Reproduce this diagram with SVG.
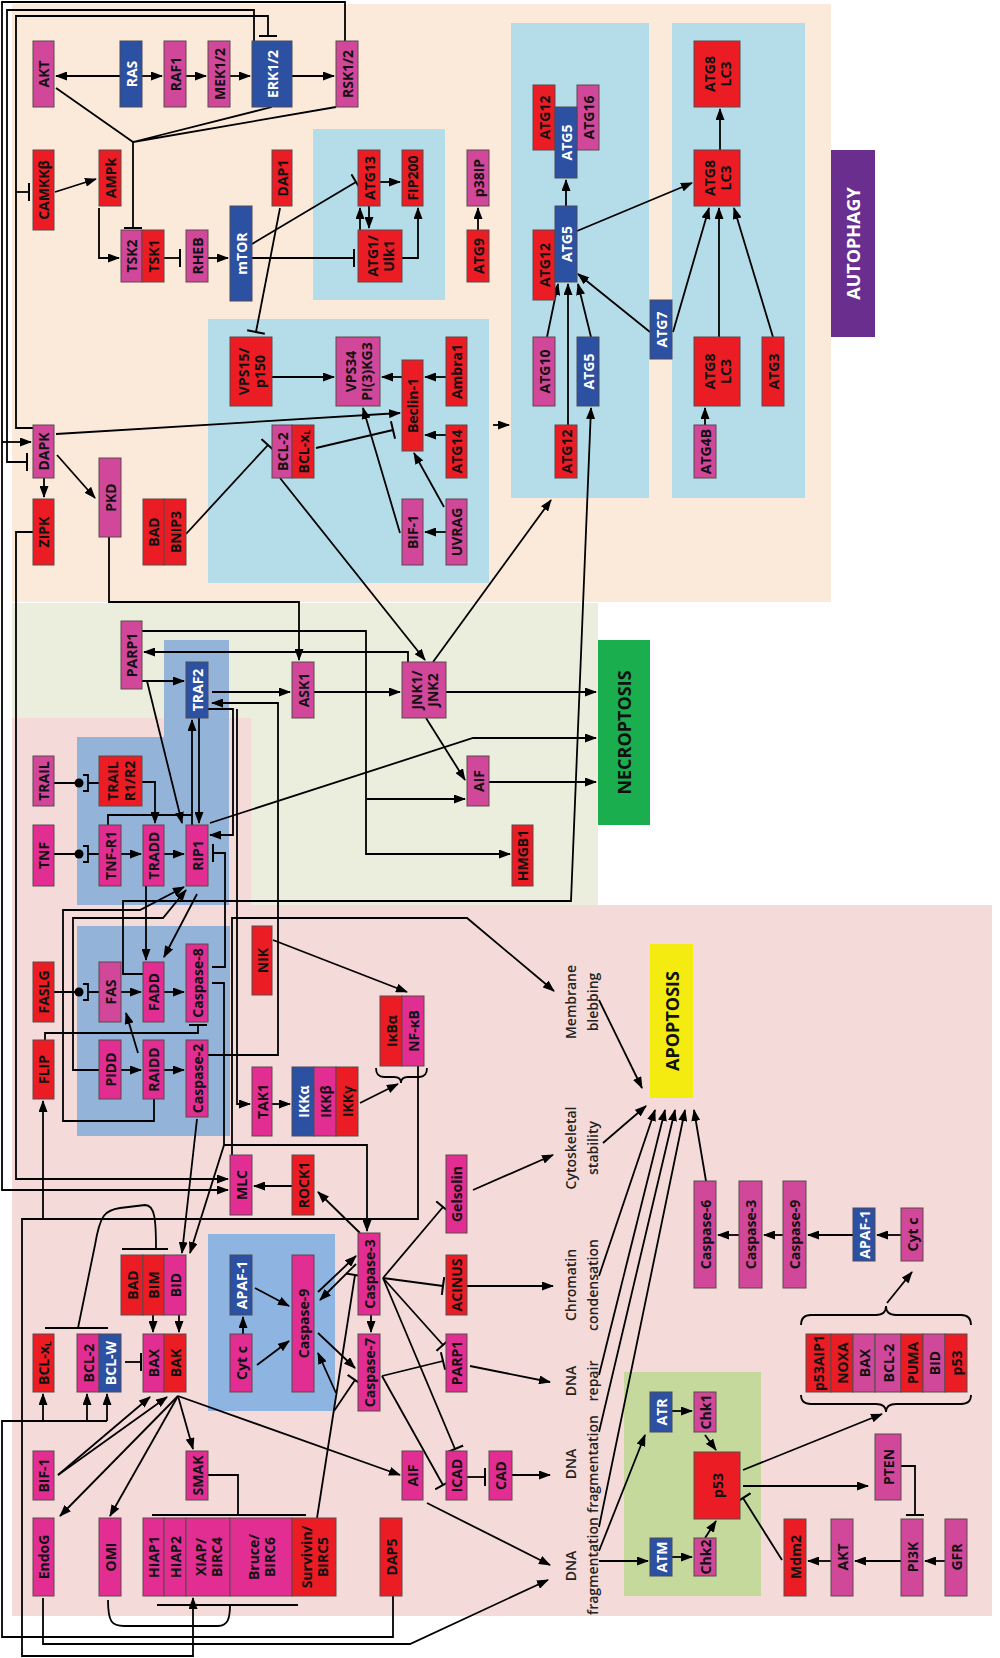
<svg xmlns="http://www.w3.org/2000/svg" width="1000" height="1658" viewBox="0 0 1000 1658">
<defs>
<style>
.r{fill:#EC1C24;stroke:#5a4a4a;stroke-width:1}
.m{fill:#D1479A;stroke:#5a4a4a;stroke-width:1}
.mb{fill:#E22D92;stroke:#5a4a4a;stroke-width:1}
.b{fill:#2C50A2;stroke:#4a4a5a;stroke-width:1}
text{font-family:"Open Sans","DejaVu Sans",sans-serif;font-weight:bold;font-size:14px;fill:#111;text-anchor:middle;dominant-baseline:central}
text.w{fill:#fff}
text.lab{font-size:18px}
text.ph{font-weight:600;font-size:14px;fill:#222}
#conn path,#conn line{fill:none;stroke:#000;stroke-width:1.8}
.a{marker-end:url(#arr)}
.t{marker-end:url(#tee)}
</style>
<marker id="arr" markerWidth="12" markerHeight="9" refX="11" refY="4.5" orient="auto" markerUnits="userSpaceOnUse"><path d="M0,0 L12,4.5 L0,9 z" fill="#000"/></marker>
<marker id="tee" markerWidth="4" markerHeight="18" refX="2" refY="9" orient="auto" markerUnits="userSpaceOnUse"><path d="M2,0 V18" stroke="#000" stroke-width="2"/></marker>
</defs>
<rect width="1000" height="1658" fill="#fff"/>
<g id="regions">
<rect x="12" y="4" width="819" height="598" fill="#FBEADA"/>
<rect x="12" y="603" width="586" height="302" fill="#EBEEDC"/>
<path d="M12,718 H251 V905 H992 V1616 H12 Z" fill="#F5DADA"/>
<rect x="313" y="129" width="132" height="171" fill="#B5DCE9"/>
<rect x="208" y="319" width="281" height="264" fill="#B5DCE9"/>
<rect x="511" y="23" width="138" height="475" fill="#B5DCE9"/>
<rect x="672" y="23" width="133" height="475" fill="#B5DCE9"/>
<path d="M164,640 H229 V905 H77 V737 H164 Z" fill="#93B3D8"/>
<rect x="77" y="926" width="153" height="210" fill="#93B3D8"/>
<rect x="208" y="1234" width="127" height="177" fill="#8EB4E1"/>
<rect x="624" y="1372" width="137" height="224" fill="#C4D99B"/>
</g>
<g id="label-autophagy"><rect x="831" y="150" width="44" height="187" fill="#6A2E8F"/><text class="lab w" transform="translate(853,243.5) rotate(-90)">AUTOPHAGY</text></g>
<g id="label-necroptosis"><rect x="598" y="640" width="52" height="185" fill="#1BAE4E"/><text class="lab" transform="translate(624,732.5) rotate(-90)">NECROPTOSIS</text></g>
<g id="label-apoptosis"><rect x="650" y="944" width="43" height="154" fill="#F4EC10"/><text class="lab" transform="translate(671.5,1021) rotate(-90)">APOPTOSIS</text></g>

<g id="conn">
<path d="M345,41 V2 H2 V1190 H228" class="a"/>
<path d="M2,442 H31" class="a"/>
<path d="M254,41 V10 H7 V462 H27" class="t"/>
<path d="M33,428 H16 V16 H268 V36" class="t"/>
<path d="M16,192 H29" class="t"/>
<path d="M33,532 H16 V1179 H228" class="a"/>
<path d="M120,76 H56" class="a"/>
<path d="M142,76 H162" class="a"/>
<path d="M186,76 H206" class="a"/>
<path d="M230,76 H250" class="a"/>
<path d="M292,76 H334" class="a"/>
<path d="M56,88 L133,142 M272,107 L133,142 M336,107 L133,142"/>
<path d="M133,142 V228" class="t"/>
<path d="M55,192 L96,179" class="a"/>
<path d="M99,208 V258 H119" class="a"/>
<path d="M164,258 H180" class="t"/>
<path d="M208,258 H228" class="a"/>
<path d="M252,258 H354" class="t"/>
<path d="M252,244 L356,182" class="t"/>
<path d="M280,208 L256,332" class="t"/>
<path d="M272,377 H334" class="a"/>
<path d="M380,182 H400" class="a"/>
<path d="M369,206 V228" class="a"/>
<path d="M360,230 V208" class="a"/>
<path d="M402,258 H418 V208" class="a"/>
<path d="M478,230 V208" class="a"/>
<path d="M566,206 V180" class="a"/>
<path d="M577,231 L692,183" class="a"/>
<path d="M547,337 L558,284" class="a"/>
<path d="M568,425 V284" class="a"/>
<path d="M591,337 L578,284" class="a"/>
<path d="M650,332 L578,274" class="a"/>
<path d="M673,332 L709,208" class="a"/>
<path d="M719,337 V208" class="a"/>
<path d="M773,337 L734,208" class="a"/>
<path d="M720,150 V109" class="a"/>
<path d="M705,425 V408" class="a"/>
<path d="M143,974 H123 V901 H571 L591,408" class="a"/>
<path d="M446,377 H425" class="a"/>
<path d="M402,377 H382" class="a"/>
<path d="M446,435 H425" class="a"/>
<path d="M446,532 H425" class="a"/>
<path d="M444,507 L414,453" class="a"/>
<path d="M400,533 L363,408" class="a"/>
<path d="M56,434 L400,413" class="a"/>
<path d="M316,448 L393,430" class="t"/>
<path d="M493,425 H509" class="a"/>
<path d="M186,534 L268,445" class="t"/>
<path d="M280,478 L425,660" class="a"/>
<path d="M433,662 L551,500" class="a"/>
<path d="M44,478 V497" class="a"/>
<path d="M57,455 L95,498" class="a"/>
<path d="M109,537 V602 H299 V660" class="a"/>
<path d="M142,631 H366 V854 H510" class="a"/>
<path d="M366,799 H465" class="a"/>
<path d="M408,662 V652 H144" class="a"/>
<path d="M314,692 H400" class="a"/>
<path d="M446,692 H596" class="a"/>
<path d="M426,718 L465,780" class="a"/>
<path d="M489,782 H596" class="a"/>
<path d="M210,823 L473,738 H596" class="a"/>
<path d="M212,692 H290" class="a"/>
<path d="M208,1055 H278 V703 H212" class="a"/>
<path d="M208,709 H233 V835 H210" class="a"/>
<path d="M142,681 H184" class="a"/>
<path d="M147,681 L182,823" class="a"/>
<path d="M192,825 V720" class="a"/>
<path d="M199,718 V823" class="a"/>
<path d="M108,825 V815 H192"/>
<path d="M54,783 H79 M88,783 H99 M83,775 H88 V791 H83"/>
<path d="M54,854 H79 M88,854 H99 M83,846 H88 V862 H83"/>
<path d="M54,992 H79 M88,992 H99 M83,984 H88 V1000 H83"/>
<path d="M142,782 H155 V823" class="a"/>
<path d="M121,854 H141" class="a"/>
<path d="M164,854 H184" class="a"/>
<path d="M197,894 L164,957" class="a"/>
<path d="M154,1099 V1121 H63 V910 H140 L184,887" class="a"/>
<path d="M99,1070 H73 V918 H163 L186,890" class="a"/>
<path d="M146,886 V960" class="a"/>
<path d="M121,992 H141" class="a"/>
<path d="M164,992 H184" class="a"/>
<path d="M138,1053 L126,1013" class="a"/>
<path d="M121,1070 H141" class="a"/>
<path d="M164,1070 H184" class="a"/>
<path d="M45,1040 V1033 H198 V1025" class="t"/>
<path d="M212,967 H225 V853 H213" class="t"/>
<path d="M212,983 H224 V1145 L190,1253" class="a"/>
<path d="M224,1145 H367 V1231" class="a"/>
<path d="M197,1119 L182,1253" class="a"/>
<path d="M273,940 L407,992" class="a"/>
<path d="M232,1155 V918 H467 L554,991" class="a"/>
<path d="M237,709 V1104 H250" class="a"/>
<path d="M272,1104 H290" class="a"/>
<path d="M360,1103 L398,1084" class="a"/>
<path d="M376,1068 Q376,1077 384,1077 H394 Q401,1077 401,1083 Q401,1077 408,1077 H419 Q427,1077 427,1068"/>
<path d="M418,1066 V1219 H22 V1656 H193 V1598" class="a"/>
<path d="M43,1219 V1101" class="a"/>
<path d="M393,1596 V1637 H2 V1421 H107"/>
<path d="M43,1421 V1394" class="a"/>
<path d="M87,1421 V1394" class="a"/>
<path d="M107,1421 V1394" class="a"/>
<path d="M43,1598 V1644 H410 L548,1580" class="a"/>
<path d="M108,1600 C108,1622 112,1626 124,1626 H218 C228,1626 230,1618 230,1605"/>
<path d="M157,1605 H298"/>
<path d="M208,1475 H238 V1515"/>
<path d="M152,1515 H306"/>
<path d="M317,1518 L355,1275" class="t"/>
<path d="M336,1393 L318,1353" class="a"/>
<path d="M334,1411 L355,1380" class="t"/>
<path d="M178,1396 L193,1449" class="a"/>
<path d="M178,1396 L110,1516" class="a"/>
<path d="M178,1396 L60,1516" class="a"/>
<path d="M178,1396 L400,1475" class="a"/>
<path d="M58,1475 L150,1397" class="a"/>
<path d="M58,1475 L167,1397" class="a"/>
<path d="M125,1362 H141" class="t"/>
<path d="M153,1315 V1332" class="a"/>
<path d="M179,1315 V1332" class="a"/>
<path d="M45,1328 H108 M122,1249 H168"/>
<path d="M78,1328 L95,1245 C100,1215 105,1210 120,1208 L145,1205 C155,1205 156,1220 156,1249"/>
<path d="M255,1288 L289,1306" class="a"/>
<path d="M243,1334 V1317" class="a"/>
<path d="M257,1365 L289,1341" class="a"/>
<path d="M318,1292 L356,1256" class="a"/>
<path d="M356,1264 L320,1300" class="a"/>
<path d="M318,1333 L355,1368" class="a"/>
<path d="M371,1315 V1332" class="a"/>
<path d="M360,1233 L318,1192" class="a"/>
<path d="M292,1186 H254" class="a"/>
<path d="M383,1278 L443,1207" class="t"/>
<path d="M383,1278 L443,1286" class="t"/>
<path d="M383,1278 L443,1345" class="t"/>
<path d="M383,1278 L455,1449" class="t"/>
<path d="M382,1376 L443,1361" class="t"/>
<path d="M382,1376 L443,1485" class="t"/>
<path d="M467,1286 H553" class="a"/>
<path d="M470,1366 L550,1382" class="a"/>
<path d="M467,1477 H485" class="t"/>
<path d="M512,1475 H550" class="a"/>
<path d="M427,1503 L550,1565" class="a"/>
<path d="M473,1190 L553,1155" class="a"/>
<path d="M599,1000 L642,1088" class="a"/>
<path d="M603,1143 L646,1106" class="a"/>
<path d="M599,1276 L655,1110" class="a"/>
<path d="M599,1375 L665,1110" class="a"/>
<path d="M599,1432 L675,1110" class="a"/>
<path d="M599,1527 L685,1110" class="a"/>
<path d="M706,1181 L694,1110" class="a"/>
<path d="M739,1235 H718" class="a"/>
<path d="M783,1235 H764" class="a"/>
<path d="M853,1235 H808" class="a"/>
<path d="M901,1235 H877" class="a"/>
<path d="M801,1325 Q801,1315 811,1315 H876 Q886,1315 886,1306 Q886,1315 896,1315 H961 Q971,1315 971,1325"/>
<path d="M801,1395 Q801,1404 811,1404 H876 Q886,1404 886,1412 Q886,1404 896,1404 H961 Q971,1404 971,1395"/>
<path d="M887,1303 L912,1272" class="a"/>
<path d="M743,1470 L882,1414" class="a"/>
<path d="M743,1486 H868" class="a"/>
<path d="M901,1466 H915 V1515" class="t"/>
<path d="M945,1561 H925" class="a"/>
<path d="M901,1561 H855" class="a"/>
<path d="M831,1561 H808" class="a"/>
<path d="M782,1560 L743,1498" class="t"/>
<path d="M705,1435 L716,1450" class="a"/>
<path d="M705,1538 L716,1521" class="a"/>
<path d="M672,1411 H692" class="a"/>
<path d="M672,1557 H692" class="a"/>
<path d="M599,1561 H648" class="a"/>
<path d="M599,1551 L645,1435" class="a"/>
</g>
<g fill="#000"><circle cx="79" cy="783" r="4.5"/><circle cx="79" cy="854" r="4.5"/><circle cx="79" cy="992" r="4.5"/></g>

<g id="nodes">
<g id="AKT"><rect class="m" x="33" y="41" width="21" height="66"/><text transform="translate(43.5,74) rotate(-90)">AKT</text></g>
<g id="RAS"><rect class="b" x="120" y="41" width="22" height="66"/><text class="w" transform="translate(131,74) rotate(-90)">RAS</text></g>
<g id="RAF1"><rect class="m" x="164" y="41" width="22" height="66"/><text transform="translate(175,74) rotate(-90)">RAF1</text></g>
<g id="MEK"><rect class="m" x="208" y="41" width="22" height="66"/><text transform="translate(219,74) rotate(-90)">MEK1/2</text></g>
<g id="ERK"><rect class="b" x="252" y="41" width="40" height="66"/><text class="w" transform="translate(272,74) rotate(-90)">ERK1/2</text></g>
<g id="RSK"><rect class="m" x="336" y="41" width="22" height="66"/><text transform="translate(347,74) rotate(-90)">RSK1/2</text></g>
<g id="CAMKK"><rect class="r" x="33" y="150" width="21" height="80"/><text transform="translate(43.5,190) rotate(-90)">CAMKKβ</text></g>
<g id="AMPk"><rect class="r" x="99" y="150" width="22" height="56"/><text transform="translate(110,178) rotate(-90)">AMPk</text></g>
<g id="TSK"><rect class="m" x="121" y="230" width="21" height="52"/><rect class="r" x="142" y="230" width="22" height="52"/><text transform="translate(131.5,256) rotate(-90)">TSK2</text><text transform="translate(153,256) rotate(-90)">TSK1</text></g>
<g id="RHEB"><rect class="m" x="186" y="230" width="22" height="52"/><text transform="translate(197,256) rotate(-90)">RHEB</text></g>
<g id="mTOR"><rect class="b" x="230" y="206" width="22" height="95"/><text class="w" transform="translate(241,253.5) rotate(-90)">mTOR</text></g>
<g id="DAP1"><rect class="r" x="272" y="150" width="20" height="56"/><text transform="translate(282,178) rotate(-90)">DAP1</text></g>
<g id="ATG13"><rect class="r" x="358" y="150" width="22" height="56"/><text transform="translate(369,178) rotate(-90)">ATG13</text></g>
<g id="FIP200"><rect class="r" x="402" y="150" width="21" height="56"/><text transform="translate(412.5,178) rotate(-90)">FIP200</text></g>
<g id="ATG1"><rect class="r" x="358" y="230" width="44" height="52"/><text transform="translate(380,256) rotate(-90)"><tspan x="0" dy="-0.58em">ATG1/</tspan><tspan x="0" dy="1.16em">Ulk1</tspan></text></g>
<g id="p38IP"><rect class="m" x="467" y="150" width="22" height="56"/><text transform="translate(478,178) rotate(-90)">p38IP</text></g>
<g id="ATG9"><rect class="r" x="467" y="230" width="22" height="52"/><text transform="translate(478,256) rotate(-90)">ATG9</text></g>
<g id="ATG12-5-16"><rect class="r" x="533" y="85" width="22" height="65"/><rect class="m" x="577" y="85" width="22" height="65"/><rect class="b" x="555" y="107" width="22" height="71"/><text transform="translate(544,117.5) rotate(-90)">ATG12</text><text class="w" transform="translate(566,142.5) rotate(-90)">ATG5</text><text transform="translate(588,117.5) rotate(-90)">ATG16</text></g>
<g id="ATG12-5"><rect class="r" x="533" y="230" width="22" height="70"/><rect class="b" x="555" y="206" width="22" height="76"/><text transform="translate(544,265) rotate(-90)">ATG12</text><text class="w" transform="translate(566,244) rotate(-90)">ATG5</text></g>
<g id="ATG10"><rect class="m" x="533" y="337" width="22" height="69"/><text transform="translate(544,371.5) rotate(-90)">ATG10</text></g>
<g id="ATG5"><rect class="b" x="577" y="337" width="22" height="69"/><text class="w" transform="translate(588,371.5) rotate(-90)">ATG5</text></g>
<g id="ATG7"><rect class="b" x="650" y="300" width="22" height="59"/><text class="w" transform="translate(661,329.5) rotate(-90)">ATG7</text></g>
<g id="LC3a"><rect class="r" x="694" y="41" width="46" height="66"/><text transform="translate(717,74) rotate(-90)"><tspan x="0" dy="-0.58em">ATG8</tspan><tspan x="0" dy="1.16em">LC3</tspan></text></g>
<g id="LC3b"><rect class="r" x="694" y="150" width="46" height="56"/><text transform="translate(717,178) rotate(-90)"><tspan x="0" dy="-0.58em">ATG8</tspan><tspan x="0" dy="1.16em">LC3</tspan></text></g>
<g id="LC3c"><rect class="r" x="694" y="337" width="46" height="69"/><text transform="translate(717,371.5) rotate(-90)"><tspan x="0" dy="-0.58em">ATG8</tspan><tspan x="0" dy="1.16em">LC3</tspan></text></g>
<g id="ATG3"><rect class="r" x="762" y="337" width="22" height="69"/><text transform="translate(773,371.5) rotate(-90)">ATG3</text></g>
<g id="ATG4B"><rect class="m" x="694" y="425" width="22" height="53"/><text transform="translate(705,451.5) rotate(-90)">ATG4B</text></g>
<g id="VPS15"><rect class="r" x="230" y="337" width="42" height="69"/><text transform="translate(251,371.5) rotate(-90)"><tspan x="0" dy="-0.58em">VPS15/</tspan><tspan x="0" dy="1.16em">p150</tspan></text></g>
<g id="VPS34"><rect class="m" x="336" y="337" width="44" height="69"/><text transform="translate(358,371.5) rotate(-90)"><tspan x="0" dy="-0.58em">VPS34</tspan><tspan x="0" dy="1.16em">PI(3)KG3</tspan></text></g>
<g id="Beclin1"><rect class="r" x="402" y="360" width="21" height="91"/><text transform="translate(412.5,405.5) rotate(-90)">Beclin-1</text></g>
<g id="Ambra1"><rect class="r" x="446" y="337" width="21" height="69"/><text transform="translate(456.5,371.5) rotate(-90)">Ambra1</text></g>
<g id="ATG14"><rect class="r" x="446" y="425" width="21" height="53"/><text transform="translate(456.5,451.5) rotate(-90)">ATG14</text></g>
<g id="ATG12b"><rect class="r" x="555" y="425" width="22" height="53"/><text transform="translate(566,451.5) rotate(-90)">ATG12</text></g>
<g id="BIF1a"><rect class="m" x="402" y="499" width="21" height="66"/><text transform="translate(412.5,532) rotate(-90)">BIF-1</text></g>
<g id="UVRAG"><rect class="m" x="446" y="499" width="21" height="66"/><text transform="translate(456.5,532) rotate(-90)">UVRAG</text></g>
<g id="BCL2a"><rect class="m" x="272" y="425" width="20" height="53"/><rect class="r" x="292" y="425" width="22" height="53"/><text transform="translate(282,451.5) rotate(-90)">BCL-2</text><text transform="translate(303,451.5) rotate(-90)">BCL-x<tspan font-size="9" dy="3">L</tspan></text></g>
<g id="BADBNIP3"><rect class="r" x="143" y="499" width="21" height="66"/><rect class="r" x="164" y="499" width="22" height="66"/><text transform="translate(153.5,532) rotate(-90)">BAD</text><text transform="translate(175,532) rotate(-90)">BNIP3</text></g>
<g id="DAPK"><rect class="m" x="33" y="425" width="21" height="53"/><text transform="translate(43.5,451.5) rotate(-90)">DAPK</text></g>
<g id="ZIPK"><rect class="r" x="33" y="499" width="21" height="66"/><text transform="translate(43.5,532) rotate(-90)">ZIPK</text></g>
<g id="PKD"><rect class="m" x="99" y="458" width="22" height="79"/><text transform="translate(110,497.5) rotate(-90)">PKD</text></g>
<g id="PARP1n"><rect class="m" x="121" y="621" width="21" height="68"/><text transform="translate(131.5,655) rotate(-90)">PARP1</text></g>
<g id="TRAF2"><rect class="b" x="186" y="662" width="22" height="56"/><text class="w" transform="translate(197,690) rotate(-90)">TRAF2</text></g>
<g id="ASK1"><rect class="m" x="292" y="662" width="22" height="56"/><text transform="translate(303,690) rotate(-90)">ASK1</text></g>
<g id="JNK"><rect class="m" x="402" y="662" width="44" height="56"/><text transform="translate(424,690) rotate(-90)"><tspan x="0" dy="-0.58em">JNK1/</tspan><tspan x="0" dy="1.16em">JNK2</tspan></text></g>
<g id="AIFn"><rect class="m" x="467" y="756" width="22" height="50"/><text transform="translate(478,781) rotate(-90)">AIF</text></g>
<g id="HMGB1"><rect class="r" x="512" y="825" width="21" height="61"/><text transform="translate(522.5,855.5) rotate(-90)">HMGB1</text></g>
<g id="TRAIL"><rect class="m" x="33" y="756" width="21" height="50"/><text transform="translate(43.5,781) rotate(-90)">TRAIL</text></g>
<g id="TRAILR"><rect class="r" x="99" y="756" width="43" height="50"/><text transform="translate(120.5,781) rotate(-90)"><tspan x="0" dy="-0.58em">TRAIL</tspan><tspan x="0" dy="1.16em">R1/R2</tspan></text></g>
<g id="TNF"><rect class="mb" x="33" y="825" width="21" height="61"/><text transform="translate(43.5,855.5) rotate(-90)">TNF</text></g>
<g id="TNFR1"><rect class="mb" x="99" y="825" width="22" height="61"/><text transform="translate(110,855.5) rotate(-90)">TNF-R1</text></g>
<g id="TRADD"><rect class="mb" x="143" y="825" width="21" height="61"/><text transform="translate(153.5,855.5) rotate(-90)">TRADD</text></g>
<g id="RIP1"><rect class="mb" x="186" y="825" width="22" height="61"/><text transform="translate(197,855.5) rotate(-90)">RIP1</text></g>
<g id="FASLG"><rect class="r" x="33" y="962" width="21" height="60"/><text transform="translate(43.5,992) rotate(-90)">FASLG</text></g>
<g id="FAS"><rect class="m" x="99" y="962" width="22" height="60"/><text transform="translate(110,992) rotate(-90)">FAS</text></g>
<g id="FADD"><rect class="mb" x="143" y="962" width="21" height="60"/><text transform="translate(153.5,992) rotate(-90)">FADD</text></g>
<g id="Casp8"><rect class="mb" x="186" y="944" width="22" height="78"/><text transform="translate(197,983) rotate(-90)">Caspase-8</text></g>
<g id="FLIP"><rect class="r" x="33" y="1040" width="21" height="59"/><text transform="translate(43.5,1069.5) rotate(-90)">FLIP</text></g>
<g id="PIDD"><rect class="mb" x="99" y="1040" width="22" height="59"/><text transform="translate(110,1069.5) rotate(-90)">PIDD</text></g>
<g id="RAIDD"><rect class="mb" x="143" y="1040" width="21" height="59"/><text transform="translate(153.5,1069.5) rotate(-90)">RAIDD</text></g>
<g id="Casp2"><rect class="mb" x="186" y="1040" width="22" height="77"/><text transform="translate(197,1078.5) rotate(-90)">Caspase-2</text></g>
<g id="NIK"><rect class="r" x="252" y="926" width="20" height="69"/><text transform="translate(262,960.5) rotate(-90)">NIK</text></g>
<g id="TAK1"><rect class="mb" x="252" y="1067" width="20" height="69"/><text transform="translate(262,1101.5) rotate(-90)">TAK1</text></g>
<g id="IKK"><rect class="b" x="292" y="1067" width="22" height="69"/><rect class="mb" x="314" y="1067" width="22" height="69"/><rect class="r" x="336" y="1067" width="22" height="69"/><text class="w" transform="translate(303,1101.5) rotate(-90)">IKKα</text><text transform="translate(325,1101.5) rotate(-90)">IKKβ</text><text transform="translate(347,1101.5) rotate(-90)">IKKγ</text></g>
<g id="NFkB"><rect class="r" x="380" y="996" width="22" height="70"/><rect class="mb" x="402" y="996" width="22" height="70"/><text transform="translate(391,1031) rotate(-90)">IκBα</text><text transform="translate(413,1031) rotate(-90)">NF-κB</text></g>
<g id="MLC"><rect class="mb" x="230" y="1155" width="22" height="60"/><text transform="translate(241,1185) rotate(-90)">MLC</text></g>
<g id="ROCK1"><rect class="r" x="292" y="1155" width="22" height="60"/><text transform="translate(303,1185) rotate(-90)">ROCK1</text></g>
<g id="Gelsolin"><rect class="mb" x="446" y="1155" width="21" height="78"/><text transform="translate(456.5,1194) rotate(-90)">Gelsolin</text></g>
<g id="Casp3"><rect class="mb" x="358" y="1233" width="22" height="82"/><text transform="translate(369,1274) rotate(-90)">Caspase-3</text></g>
<g id="Casp7"><rect class="mb" x="358" y="1334" width="22" height="77"/><text transform="translate(369,1372.5) rotate(-90)">Caspase-7</text></g>
<g id="ACINUS"><rect class="r" x="446" y="1255" width="21" height="60"/><text transform="translate(456.5,1285) rotate(-90)">ACINUS</text></g>
<g id="PARP1a"><rect class="mb" x="446" y="1334" width="21" height="58"/><text transform="translate(456.5,1363) rotate(-90)">PARP1</text></g>
<g id="AIFa"><rect class="mb" x="402" y="1451" width="21" height="49"/><text transform="translate(412.5,1475.5) rotate(-90)">AIF</text></g>
<g id="ICAD"><rect class="mb" x="446" y="1451" width="21" height="49"/><text transform="translate(456.5,1475.5) rotate(-90)">ICAD</text></g>
<g id="CAD"><rect class="mb" x="489" y="1451" width="23" height="49"/><text transform="translate(500.5,1475.5) rotate(-90)">CAD</text></g>
<g id="DAP5"><rect class="r" x="380" y="1518" width="22" height="78"/><text transform="translate(391,1557) rotate(-90)">DAP5</text></g>
<g id="BADBIMBID"><rect class="r" x="121" y="1255" width="22" height="60"/><rect class="r" x="143" y="1255" width="21" height="60"/><rect class="mb" x="164" y="1255" width="22" height="60"/><text transform="translate(132,1285) rotate(-90)">BAD</text><text transform="translate(153.5,1285) rotate(-90)">BIM</text><text transform="translate(175,1285) rotate(-90)">BID</text></g>
<g id="BCLxL"><rect class="r" x="33" y="1334" width="21" height="58"/><text transform="translate(43.5,1363) rotate(-90)">BCL-x<tspan font-size="9" dy="3">L</tspan></text></g>
<g id="BCL2W"><rect class="mb" x="77" y="1334" width="22" height="58"/><rect class="b" x="99" y="1334" width="22" height="58"/><text transform="translate(88,1363) rotate(-90)">BCL-2</text><text class="w" transform="translate(110,1363) rotate(-90)">BCL-W</text></g>
<g id="BAXBAK"><rect class="mb" x="143" y="1334" width="21" height="58"/><rect class="r" x="164" y="1334" width="22" height="58"/><text transform="translate(153.5,1363) rotate(-90)">BAX</text><text transform="translate(175,1363) rotate(-90)">BAK</text></g>
<g id="APAF1"><rect class="b" x="230" y="1255" width="22" height="60"/><text class="w" transform="translate(241,1285) rotate(-90)">APAF-1</text></g>
<g id="Cytc"><rect class="mb" x="230" y="1334" width="22" height="58"/><text transform="translate(241,1363) rotate(-90)">Cyt c</text></g>
<g id="Casp9"><rect class="mb" x="292" y="1255" width="22" height="137"/><text transform="translate(303,1323.5) rotate(-90)">Caspase-9</text></g>
<g id="BIF1b"><rect class="mb" x="33" y="1451" width="21" height="49"/><text transform="translate(43.5,1475.5) rotate(-90)">BIF-1</text></g>
<g id="SMAK"><rect class="mb" x="186" y="1451" width="22" height="49"/><text transform="translate(197,1475.5) rotate(-90)">SMAK</text></g>
<g id="EndoG"><rect class="mb" x="33" y="1518" width="21" height="78"/><text transform="translate(43.5,1557) rotate(-90)">EndoG</text></g>
<g id="OMI"><rect class="mb" x="99" y="1518" width="22" height="78"/><text transform="translate(110,1557) rotate(-90)">OMI</text></g>
<g id="IAPs"><rect class="mb" x="143" y="1518" width="21" height="78"/><rect class="mb" x="164" y="1518" width="22" height="78"/><rect class="mb" x="186" y="1518" width="44" height="78"/><rect class="mb" x="230" y="1518" width="62" height="78"/><rect class="r" x="292" y="1518" width="44" height="78"/>
<text transform="translate(153.5,1557) rotate(-90)">HIAP1</text><text transform="translate(175,1557) rotate(-90)">HIAP2</text>
<text transform="translate(208,1557) rotate(-90)"><tspan x="0" dy="-0.58em">XIAP/</tspan><tspan x="0" dy="1.16em">BIRC4</tspan></text>
<text transform="translate(261,1557) rotate(-90)"><tspan x="0" dy="-0.58em">Bruce/</tspan><tspan x="0" dy="1.16em">BIRC6</tspan></text>
<text transform="translate(314,1557) rotate(-90)"><tspan x="0" dy="-0.58em">Survivin/</tspan><tspan x="0" dy="1.16em">BIRC5</tspan></text></g>
<g id="Casp6r"><rect class="m" x="694" y="1181" width="22" height="107"/><text transform="translate(705,1234.5) rotate(-90)">Caspase-6</text></g>
<g id="Casp3r"><rect class="m" x="739" y="1181" width="23" height="107"/><text transform="translate(750.5,1234.5) rotate(-90)">Caspase-3</text></g>
<g id="Casp9r"><rect class="m" x="783" y="1181" width="23" height="107"/><text transform="translate(794.5,1234.5) rotate(-90)">Caspase-9</text></g>
<g id="APAF1r"><rect class="b" x="853" y="1208" width="22" height="53"/><text class="w" transform="translate(864,1234.5) rotate(-90)">APAF-1</text></g>
<g id="Cytcr"><rect class="m" x="901" y="1208" width="22" height="53"/><text transform="translate(912,1234.5) rotate(-90)">Cyt c</text></g>
<g id="p53targets"><rect class="r" x="806" y="1334" width="25" height="58"/><rect class="r" x="831" y="1334" width="22" height="58"/><rect class="m" x="853" y="1334" width="22" height="58"/><rect class="m" x="875" y="1334" width="26" height="58"/><rect class="r" x="901" y="1334" width="22" height="58"/><rect class="m" x="923" y="1334" width="22" height="58"/><rect class="r" x="945" y="1334" width="22" height="58"/>
<text transform="translate(818.5,1363) rotate(-90)">p53AIP1</text><text transform="translate(842,1363) rotate(-90)">NOXA</text><text transform="translate(864,1363) rotate(-90)">BAX</text><text transform="translate(888,1363) rotate(-90)">BCL-2</text><text transform="translate(912,1363) rotate(-90)">PUMA</text><text transform="translate(934,1363) rotate(-90)">BID</text><text transform="translate(956,1363) rotate(-90)">p53</text></g>
<g id="ATR"><rect class="b" x="650" y="1392" width="22" height="40"/><text class="w" transform="translate(661,1412) rotate(-90)">ATR</text></g>
<g id="Chk1"><rect class="m" x="694" y="1392" width="22" height="40"/><text transform="translate(705,1412) rotate(-90)">Chk1</text></g>
<g id="ATM"><rect class="b" x="650" y="1538" width="22" height="38"/><text class="w" transform="translate(661,1557) rotate(-90)">ATM</text></g>
<g id="Chk2"><rect class="m" x="694" y="1538" width="22" height="38"/><text transform="translate(705,1557) rotate(-90)">Chk2</text></g>
<g id="p53"><rect class="r" x="694" y="1452" width="46" height="67"/><text transform="translate(717,1485.5) rotate(-90)">p53</text></g>
<g id="PTEN"><rect class="m" x="875" y="1434" width="26" height="66"/><text transform="translate(888,1467) rotate(-90)">PTEN</text></g>
<g id="Mdm2"><rect class="r" x="784" y="1519" width="22" height="77"/><text transform="translate(795,1557) rotate(-90)">Mdm2</text></g>
<g id="AKTb"><rect class="m" x="831" y="1519" width="22" height="77"/><text transform="translate(842,1557) rotate(-90)">AKT</text></g>
<g id="PI3K"><rect class="m" x="901" y="1519" width="22" height="77"/><text transform="translate(912,1557) rotate(-90)">PI3K</text></g>
<g id="GFR"><rect class="m" x="945" y="1519" width="22" height="77"/><text transform="translate(956,1557) rotate(-90)">GFR</text></g>
</g>
<g id="phenotypes">
<text class="ph" transform="translate(578,1002) rotate(-90)"><tspan x="0" dy="-0.6em">Membrane</tspan><tspan x="0" dy="1.6em">blebbing</tspan></text>
<text class="ph" transform="translate(578,1148) rotate(-90)"><tspan x="0" dy="-0.6em">Cytoskeletal</tspan><tspan x="0" dy="1.6em">stability</tspan></text>
<text class="ph" transform="translate(578,1285) rotate(-90)"><tspan x="0" dy="-0.6em">Chromatin</tspan><tspan x="0" dy="1.6em">condensation</tspan></text>
<text class="ph" transform="translate(578,1381) rotate(-90)"><tspan x="0" dy="-0.6em">DNA</tspan><tspan x="0" dy="1.6em">repair</tspan></text>
<text class="ph" transform="translate(578,1464) rotate(-90)"><tspan x="0" dy="-0.6em">DNA</tspan><tspan x="0" dy="1.6em">fragmentation</tspan></text>
<text class="ph" transform="translate(578,1566) rotate(-90)"><tspan x="0" dy="-0.6em">DNA</tspan><tspan x="0" dy="1.6em">fragmentation</tspan></text>
</g>
</svg>
